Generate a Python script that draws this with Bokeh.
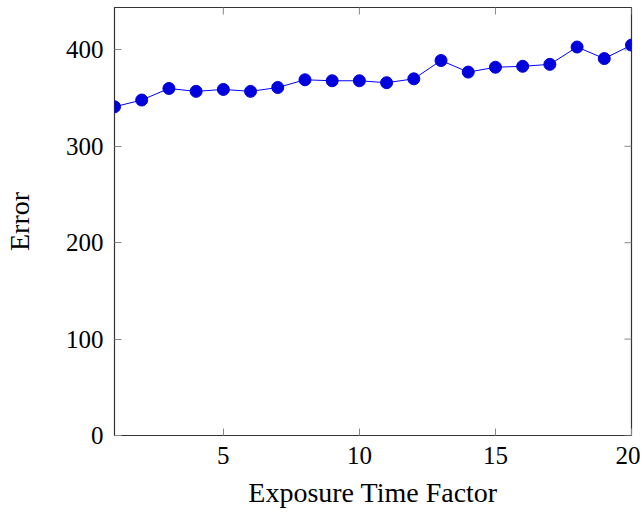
import math
from bokeh.plotting import figure
from bokeh.models import Range1d, FixedTicker
from bokeh.embed import file_html
from bokeh.resources import INLINE

factor = list(range(1, 21))
error = [341, 348, 360, 357, 359, 357, 361, 369, 368, 368,
         366, 370, 389, 377, 382, 383, 385, 403, 391, 405]
x_ticks = [5, 10, 15, 20]
y_ticks = [0, 100, 200, 300, 400]
x_min, x_max = 1, 20
y_min, y_max = 0, 444

FONT = "Liberation Serif"

p = figure(width=640, height=510, output_backend="svg", toolbar_location=None,
           x_range=Range1d(x_min, x_max), y_range=Range1d(y_min, y_max),
           min_border_left=113, min_border_right=9, min_border_top=7, min_border_bottom=73,
           x_axis_label="Exposure Time Factor", y_axis_label="Error")
p.grid.visible = False
p.background_fill_color = "white"
p.border_fill_color = "white"
p.outline_line_color = "#333333"
p.outline_line_width = 1.2

for ax in [p.xaxis[0], p.yaxis[0]]:
    ax.axis_line_color = None
    ax.major_tick_in = 7
    ax.major_tick_out = 0
    ax.minor_tick_line_color = None
    ax.major_tick_line_color = "#888888"
    ax.major_label_text_font = FONT
    ax.major_label_text_font_size = "25px"
    ax.major_label_text_color = "black"
    ax.axis_label_text_font = FONT
    ax.axis_label_text_font_size = "28px"
    ax.axis_label_text_font_style = "normal"
    ax.axis_label_text_color = "black"

p.xaxis[0].ticker = FixedTicker(ticks=x_ticks)
p.yaxis[0].ticker = FixedTicker(ticks=y_ticks)
p.xaxis[0].major_label_standoff = 11
p.xaxis[0].axis_label_standoff = 10
p.yaxis[0].major_label_standoff = 11
p.yaxis[0].axis_label_standoff = 28

# mirrored inside ticks on top and right edges (half of each dash is clipped by the frame)
p.scatter(x_ticks, [y_max] * len(x_ticks), marker="dash", angle=math.pi / 2,
          size=14, line_color="#888888", line_width=1)
p.scatter([x_max] * len(y_ticks), y_ticks, marker="dash",
          size=14, line_color="#888888", line_width=1)

p.line(factor, error, line_color="#0000ff", line_width=1)
p.scatter(factor, error, size=12, fill_color="#0000dd", line_color="#0000dd")

open("out.html", "w").write(file_html(p, INLINE))
